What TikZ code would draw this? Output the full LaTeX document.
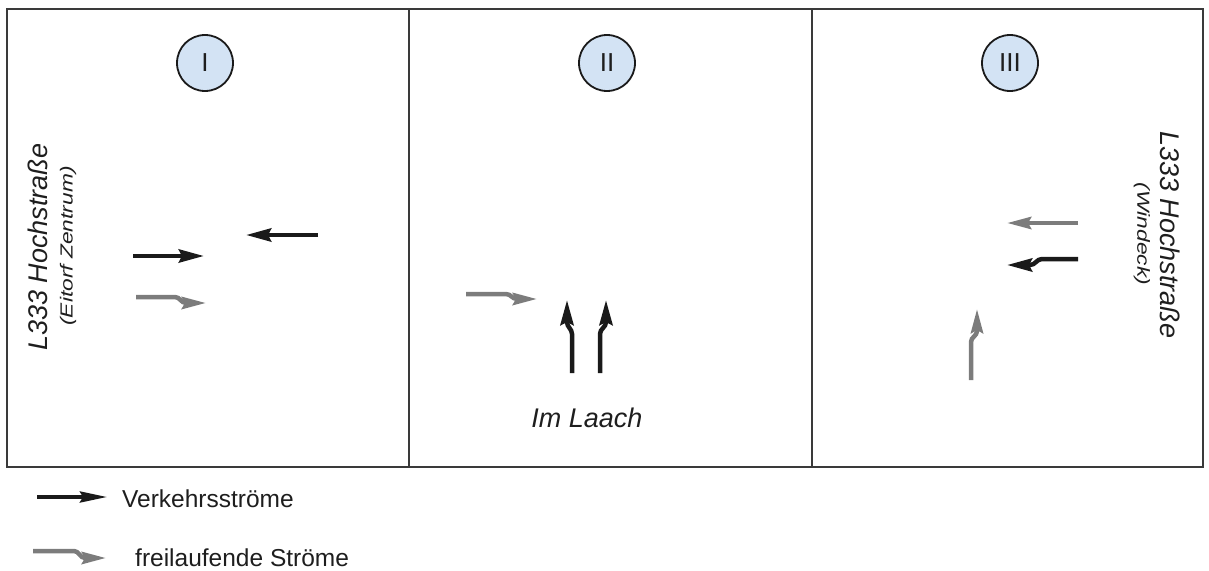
\documentclass[tikz,border=0pt]{standalone}
\usepackage{fontspec}
\setmainfont{Liberation Sans}
\usetikzlibrary{arrows.meta}
\definecolor{framec}{HTML}{3A3A3A}
\definecolor{blk}{HTML}{1A1A1A}
\definecolor{gry}{HTML}{7C7C7C}
\definecolor{circfill}{HTML}{D3E3F4}
\definecolor{txt}{HTML}{1E1E1E}
\tikzset{
  frame/.style={draw=framec, line width=1.8pt},
  phase/.style={circle, draw=blk, line width=1.8pt, fill=circfill, minimum size=56pt, inner sep=0pt,
    font=\fontsize{26}{30}\selectfont, text=txt},
  bigroad/.style={font=\fontsize{27}{32}\selectfont\itshape, text=txt, inner sep=0pt},
  smallroad/.style={font=\fontsize{17.5}{20}\selectfont\itshape, text=txt, inner sep=0pt},
  legtext/.style={font=\fontsize{24.5}{28}\selectfont, text=txt, inner sep=0pt, anchor=base west},
  blkarrow/.style={draw=blk, line width=4.5pt, -{Stealth[length=25pt, width=13pt, inset=3pt]}},
  gryarrow/.style={draw=gry, line width=4.5pt, -{Stealth[length=24pt, width=12pt, inset=3pt]}},
}
\begin{document}
\begin{tikzpicture}[x=1pt, y=-1pt]
\useasboundingbox (0,0) rectangle (1209,570);
% frame and panels
\draw[frame] (7,9) rectangle (1203,467);
\draw[frame] (409,9) -- (409,467);
\draw[frame] (812,9) -- (812,467);
% phase circles
\node[phase] (c1) at (205,63) {I};
\node[phase] (c2) at (607,63) {II};
\node[phase] (c3) at (1010,63) {III};
% road labels
\node[bigroad, rotate=90] (r1) at (38,247) {L333 Hochstraße};
\node[smallroad, rotate=90] (r1s) at (68,246) {\scalebox{1.3}[1]{(Eitorf Zentrum)}};
\node[bigroad, rotate=-90] (r3) at (1170,235) {L333 Hochstraße};
\node[smallroad, rotate=-90] (r3s) at (1142,234) {\scalebox{1.3}[1]{(Windeck)}};
\node[bigroad] (r2) at (587,418) {Im Laach};
% panel I arrows
\coordinate (a1s) at (133,256); \coordinate (a1e) at (204,256);
\draw[blkarrow] (a1s) -- (a1e);
\coordinate (a2s) at (318,235); \coordinate (a2e) at (246,235);
\draw[blkarrow] (a2s) -- (a2e);
\coordinate (a3s) at (136,297); \coordinate (a3e) at (206,303);
\draw[gryarrow] (a3s) -- (175,297) to[out=0,in=180] (186,303) -- (a3e);
% panel II arrows
\coordinate (b1s) at (466,294); \coordinate (b1e) at (537,299);
\draw[gryarrow] (b1s) -- (506,294) to[out=0,in=180] (517,299) -- (b1e);
\coordinate (b2s) at (572,373); \coordinate (b2e) at (567,300);
\draw[blkarrow] (b2s) -- (572,334) to[out=90,in=-90] (567,322) -- (b2e);
\coordinate (b3s) at (600,373); \coordinate (b3e) at (606,300);
\draw[blkarrow] (b3s) -- (600,334) to[out=90,in=-90] (606,322) -- (b3e);
% panel III arrows
\coordinate (d1s) at (1078,223); \coordinate (d1e) at (1007,223);
\draw[gryarrow] (d1s) -- (d1e);
\coordinate (d2s) at (1078,259); \coordinate (d2e) at (1007,265);
\draw[blkarrow] (d2s) -- (1042,259) to[out=180,in=0] (1030,265) -- (d2e);
\coordinate (d3s) at (971,380); \coordinate (d3e) at (977,309);
\draw[gryarrow] (d3s) -- (971,342) to[out=90,in=-90] (977,331) -- (d3e);
% legend
\coordinate (l1s) at (37,497); \coordinate (l1e) at (107,497);
\draw[draw=blk, line width=3.5pt, -{Stealth[length=27pt, width=11pt, inset=3pt]}] (l1s) -- (l1e);
\node[legtext] (t1) at (122,507) {Verkehrsströme};
\coordinate (l2s) at (33,551); \coordinate (l2e) at (106,558);
\draw[gryarrow] (l2s) -- (74,551) to[out=0,in=180] (85,558) -- (l2e);
\node[legtext] (t2) at (135,566) {freilaufende Ströme};
\end{tikzpicture}
\end{document}
